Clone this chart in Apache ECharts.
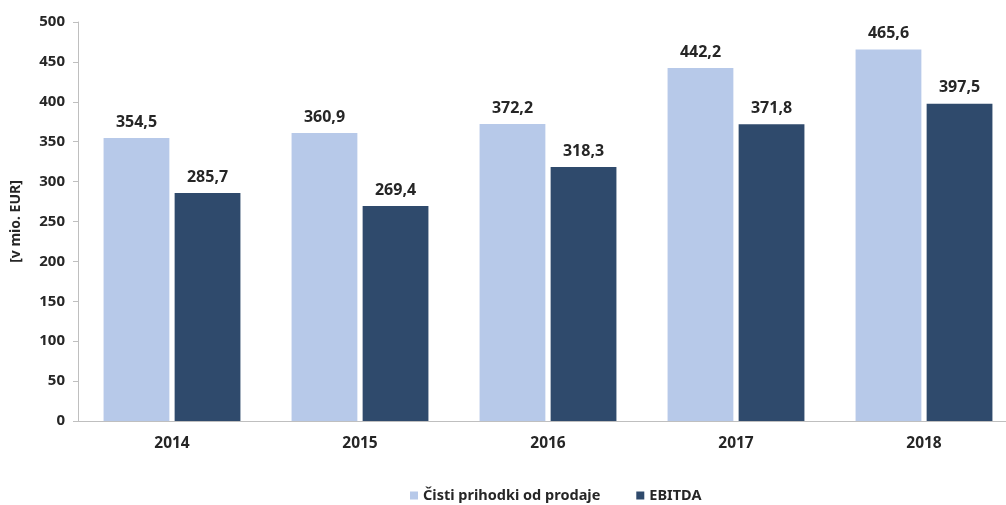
<!DOCTYPE html>
<html><head><meta charset="utf-8">
<script src="https://cdn.jsdelivr.net/npm/echarts@6/dist/echarts.min.js"></script>
<style>html,body{margin:0;padding:0;background:#fff;overflow:hidden}#c{width:1018px;height:505px}</style>
</head><body><div id="c"></div>
<script>
const categories = ['2014','2015','2016','2017','2018'];
const revenue = [354.5, 360.9, 372.2, 442.2, 465.6];
const ebitda = [285.7, 269.4, 318.3, 371.8, 397.5];
const seriesNames = ['Čisti prihodki od prodaje', 'EBITDA'];
const yAxisName = '[v mio. EUR]';

const fmt = v => v.toFixed(1).replace('.', ',');
const font = 'Noto Sans, Liberation Sans, sans-serif';
const chart = echarts.init(document.getElementById('c'));
const lbl = {show:true, position:'top', distance:8, color:'#262626', fontFamily:font, fontWeight:'bold', fontSize:16, formatter:p=>fmt(p.value)};
chart.setOption({
  animation:false,
  grid:{left:78, right:0, top:22, bottom:84},
  legend:{top:483, left:405, itemWidth:8, itemHeight:8, itemGap:36, icon:'rect',
    textStyle:{fontFamily:font, fontSize:14.5, fontWeight:'bold', color:'#262626'}},
  xAxis:{type:'category', data:categories,
    axisLine:{lineStyle:{color:'#bfbfbf'}}, axisTick:{show:false},
    axisLabel:{color:'#262626', fontFamily:font, fontSize:15.5, fontWeight:'bold', margin:15}},
  yAxis:{type:'value', min:0, max:500, interval:50, name:yAxisName, nameLocation:'middle', nameGap:55, nameRotate:90,
    nameTextStyle:{color:'#262626', fontFamily:font, fontSize:14, fontWeight:'bold'},
    axisLine:{show:true, lineStyle:{color:'#bfbfbf'}}, axisTick:{show:true, length:5, lineStyle:{color:'#bfbfbf'}},
    splitLine:{show:false},
    axisLabel:{color:'#262626', fontFamily:font, fontSize:15, fontWeight:'bold', margin:13}},
  series:[
    {name:seriesNames[0], type:'bar', data:revenue, barWidth:'35%', barGap:'8%', itemStyle:{color:'#b7c9e9'}, label:lbl},
    {name:seriesNames[1], type:'bar', data:ebitda, barWidth:'35%', itemStyle:{color:'#2f4a6c'}, label:lbl}
  ]
});
</script></body></html>
